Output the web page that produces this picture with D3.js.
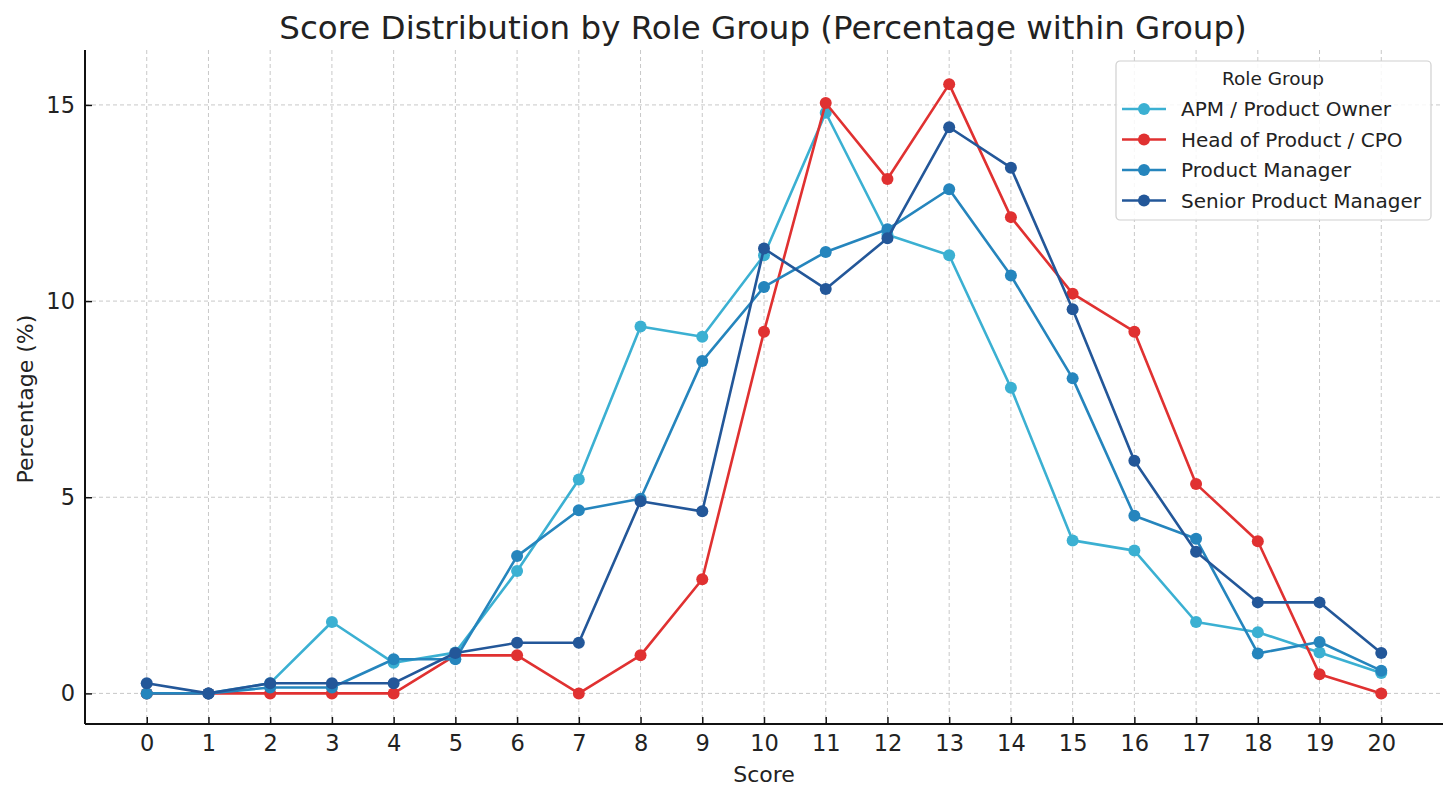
<!DOCTYPE html>
<html>
<head>
<meta charset="utf-8">
<script src="https://cdn.jsdelivr.net/npm/d3@7"></script>
<style>
  body { margin: 0; background: #fff; }
  text { font-family: "DejaVu Sans", sans-serif; fill: #222; }
</style>
</head>
<body>
<div id="chart"></div>
<script>
// Scores 0..20 and share of each role group (%)
const scores = d3.range(0, 21);
const groups = ["APM / Product Owner", "Head of Product / CPO", "Product Manager", "Senior Product Manager"];
const apm    = [0, 0, 0.26, 1.82, 0.78, 1.04, 3.12, 5.45, 9.35, 9.09, 11.17, 14.8, 11.69, 11.17, 7.79, 3.9, 3.64, 1.82, 1.56, 1.04, 0.52];
const head   = [0, 0, 0, 0, 0, 0.97, 0.97, 0, 0.97, 2.91, 9.22, 15.05, 13.11, 15.53, 12.14, 10.19, 9.22, 5.34, 3.88, 0.49, 0];
const pm     = [0, 0, 0.15, 0.15, 0.87, 0.87, 3.5, 4.67, 4.96, 8.47, 10.36, 11.25, 11.83, 12.85, 10.65, 8.03, 4.53, 3.94, 1.02, 1.31, 0.58];
const senior = [0.26, 0, 0.26, 0.26, 0.26, 1.03, 1.29, 1.29, 4.9, 4.64, 11.34, 10.31, 11.6, 14.43, 13.4, 9.79, 5.93, 3.61, 2.32, 2.32, 1.03];
const seriesValues = [apm, head, pm, senior];
const colors = ["#3bb0d2", "#e03131", "#2585bd", "#235799"];
const yTicks = [0, 5, 10, 15];

const width = 1456, height = 803;
const margin = { top: 50, right: 13, bottom: 79, left: 85 };
const w = width - margin.left - margin.right,
      h = height - margin.top - margin.bottom;

const svg = d3.select("#chart")
  .append("svg")
    .attr("width", width)
    .attr("height", height);

const g = svg.append("g")
  .attr("transform", `translate(${margin.left},${margin.top})`);

const x = d3.scaleLinear().domain([-1, 21]).range([0, w]);
const y = d3.scaleLinear().domain([-0.78, 16.4]).range([h, 0]);

// Grid
g.append("g")
  .selectAll("line")
  .data(scores)
  .join("line")
    .attr("x1", d => x(d)).attr("x2", d => x(d))
    .attr("y1", 0).attr("y2", h)
    .attr("stroke", "#c8c8c8").attr("stroke-width", 1).attr("stroke-dasharray", "4,3");
g.append("g")
  .selectAll("line")
  .data(yTicks)
  .join("line")
    .attr("x1", 0).attr("x2", w)
    .attr("y1", d => y(d)).attr("y2", d => y(d))
    .attr("stroke", "#c8c8c8").attr("stroke-width", 1).attr("stroke-dasharray", "4,3");

// Axes (ticks pointing inward)
const xAxis = g.append("g")
  .attr("transform", `translate(0,${h})`)
  .call(d3.axisBottom(x).tickValues(scores).tickSize(-7).tickPadding(11));
const yAxis = g.append("g")
  .call(d3.axisLeft(y).tickValues(yTicks).tickSize(-7).tickPadding(10));
[xAxis, yAxis].forEach(a => {
  a.select(".domain").attr("stroke", "#111").attr("stroke-width", 2);
  a.selectAll(".tick line").attr("stroke", "#111").attr("stroke-width", 1.5);
  a.selectAll(".tick text").style("font-size", "22.5px").attr("fill", "#222");
});
xAxis.select(".domain").attr("d", `M0,0H${w}`);
yAxis.select(".domain").attr("d", `M0,${h}V0`);

// Lines and markers
const line = d3.line()
  .x((d, i) => x(scores[i]))
  .y(d => y(d));

seriesValues.forEach((vals, k) => {
  g.append("path")
    .datum(vals)
    .attr("fill", "none")
    .attr("stroke", colors[k])
    .attr("stroke-width", 2.6)
    .attr("stroke-linejoin", "round")
    .attr("d", line);
  g.append("g")
    .selectAll("circle")
    .data(vals)
    .join("circle")
      .attr("cx", (d, i) => x(scores[i]))
      .attr("cy", d => y(d))
      .attr("r", 6)
      .attr("fill", colors[k]);
});

// Title and labels
svg.append("text")
  .attr("x", 763).attr("y", 39)
  .attr("text-anchor", "middle")
  .style("font-size", "32.5px")
  .text("Score Distribution by Role Group (Percentage within Group)");
svg.append("text")
  .attr("x", margin.left + x(10)).attr("y", 782)
  .attr("text-anchor", "middle")
  .style("font-size", "22px")
  .text("Score");
svg.append("text")
  .attr("transform", `translate(33,${margin.top + y(7.5)}) rotate(-90)`)
  .attr("text-anchor", "middle")
  .style("font-size", "22px")
  .text("Percentage (%)");

// Legend
const lg = svg.append("g").attr("transform", "translate(1116,61)");
lg.append("rect")
  .attr("width", 315).attr("height", 159)
  .attr("rx", 4)
  .attr("fill", "rgba(255,255,255,0.85)")
  .attr("stroke", "#d0d0d0").attr("stroke-width", 1.2);
lg.append("text")
  .attr("x", 157).attr("y", 24)
  .attr("text-anchor", "middle")
  .style("font-size", "18.5px")
  .text("Role Group");
groups.forEach((name, k) => {
  const yy = 48 + k * 30.5;
  lg.append("line")
    .attr("x1", 6).attr("x2", 50).attr("y1", yy).attr("y2", yy)
    .attr("stroke", colors[k]).attr("stroke-width", 2.6);
  lg.append("circle")
    .attr("cx", 28).attr("cy", yy).attr("r", 6).attr("fill", colors[k]);
  lg.append("text")
    .attr("x", 65).attr("y", yy + 7)
    .style("font-size", "20px")
    .text(name);
});
</script>
</body>
</html>
